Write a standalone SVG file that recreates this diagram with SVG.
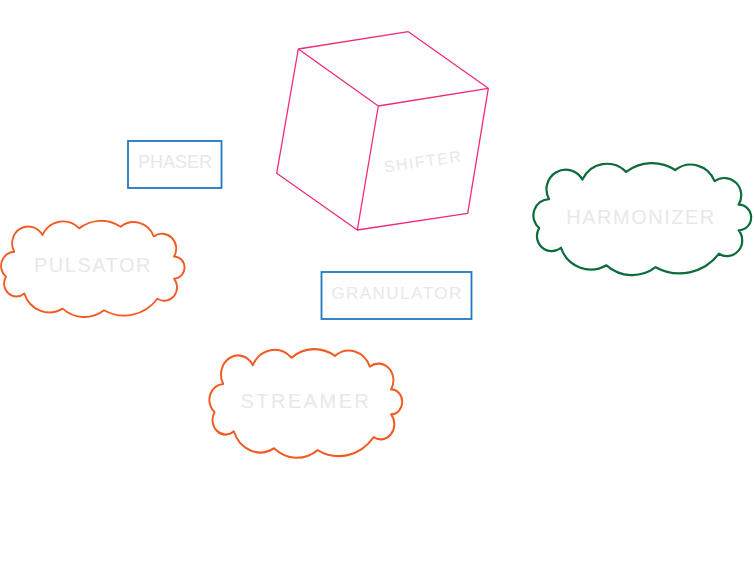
<svg xmlns="http://www.w3.org/2000/svg" width="754" height="572" viewBox="0 0 754 572">
<defs>
<style>
.lbl{font-family:"Liberation Sans","DejaVu Sans",sans-serif;fill:#e8e8e8;text-anchor:middle;}
.cloud{fill:#ffffff;stroke-width:2;vector-effect:non-scaling-stroke;stroke-linejoin:round;}
.orange{stroke:#f25a24;}
.green{stroke:#0b6b3a;}
.box{fill:#ffffff;stroke:#1f78c4;stroke-width:1.8;}
.cube{fill:none;stroke:#f02a7a;stroke-width:1.3;stroke-linejoin:round;}
</style>
<path id="cloudShape" d="M14.4,32 A17.6,17.6 0 0 1 45,14.6 A24.9,24.9 0 0 1 85,7.7 A39.6,39.6 0 0 1 130,6 A23.4,23.4 0 0 1 166,16 A15.5,15.5 0 0 1 188,37 A11.5,11.5 0 0 1 188,60 A14,14 0 0 1 170,81 A46,46 0 0 1 112,93 A36,36 0 0 1 67,91.3 A28.8,28.8 0 0 1 25.4,75.6 A13.5,13.5 0 0 1 5.4,58 A14.7,14.7 0 0 1 14.4,32 Z"/>
</defs>
<rect width="754" height="572" fill="#ffffff"/>
<g id="connectors"></g>
<g id="shifter">
<path class="cube" d="M298.3,49 L408.3,31.7 L488.3,88.3 L378.3,106 Z M298.3,49 L276.7,173.3 L357.3,230 L378.3,106 M488.3,88.3 L467.7,213.3 L357.3,230"/>
<text class="lbl" x="423" y="167" font-size="16" letter-spacing="1.5" transform="rotate(-8 423 161)">SHIFTER</text>
</g>
<g id="phaser">
<rect class="box" x="128" y="141" width="93.5" height="47"/>
<text class="lbl" x="175" y="167.5" font-size="18">PHASER</text>
</g>
<g id="granulator">
<rect class="box" x="321.5" y="272" width="150" height="47"/>
<text class="lbl" x="397" y="299" font-size="17" letter-spacing="1.5">GRANULATOR</text>
</g>
<g id="pulsator">
<use href="#cloudShape" class="cloud orange" transform="translate(1,221) scale(0.92,0.96)"/>
<text class="lbl" x="93" y="272" font-size="20" letter-spacing="1.5">PULSATOR</text>
</g>
<g id="harmonizer">
<use href="#cloudShape" class="cloud green" transform="translate(533.3,163.3) scale(1.092,1.117)"/>
<text class="lbl" x="641" y="224" font-size="20" letter-spacing="1.5">HARMONIZER</text>
</g>
<g id="streamer">
<use href="#cloudShape" class="cloud orange" transform="translate(209.3,349.3) scale(0.967,1.084)"/>
<text class="lbl" x="306" y="408" font-size="20" letter-spacing="2.5">STREAMER</text>
</g>
</svg>
